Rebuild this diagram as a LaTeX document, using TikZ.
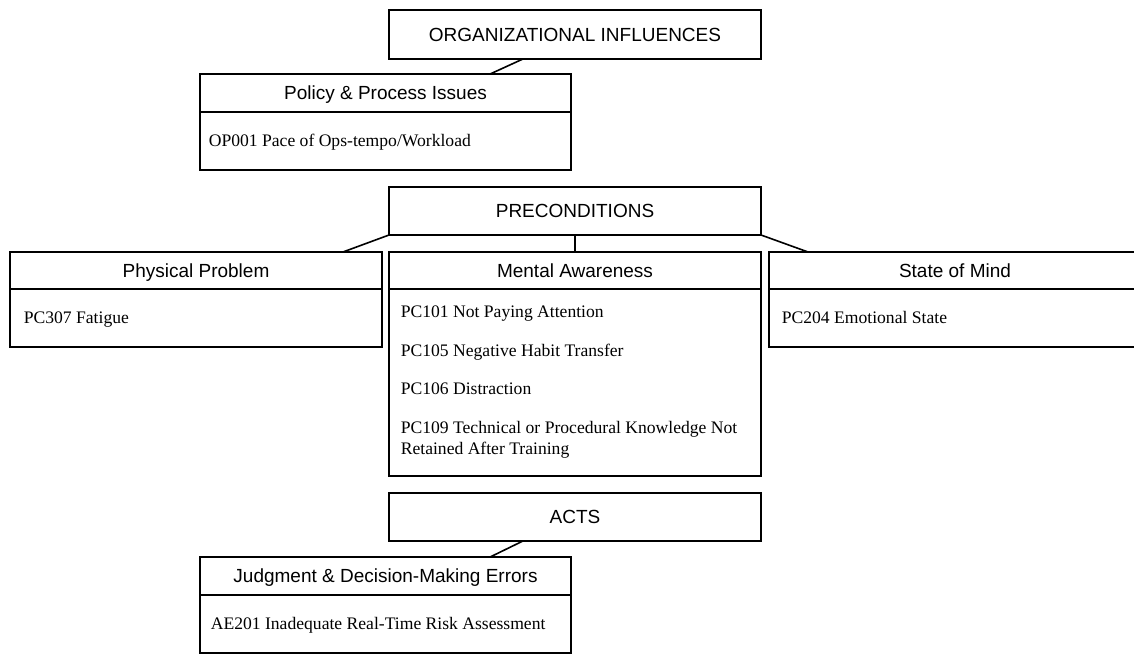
\documentclass[tikz,border=0pt]{standalone}
\usepackage{fontspec}
\setmainfont{Liberation Serif}
\newfontfamily\hsf{Liberation Sans}
\usetikzlibrary{calc}
\begin{document}
\begin{tikzpicture}[x=1pt,y=-1pt,line width=1.6pt,
  hbox/.style={draw=black,minimum width=372pt,inner sep=0pt,outer sep=0pt,text height=13.6pt,text depth=0pt,font=\hsf\fontsize{19}{22}\selectfont},
  bbox/.style={draw=black,minimum width=372pt,inner sep=0pt,outer sep=0pt},
  btext/.style={anchor=base west,inner sep=0pt,font=\fontsize{17.6}{21}\selectfont},
  link/.style={draw=black,line width=1.6pt}]
\useasboundingbox (0,0) rectangle (1134,653);
% top level
\node[hbox,minimum height=49pt] (org) at (575,34.5) {ORGANIZATIONAL INFLUENCES};
\node[hbox,minimum width=371pt,minimum height=38pt] (polh) at (385.5,93) {Policy \& Process Issues};
\node[bbox,minimum width=371pt,minimum height=58pt] (polb) at (385.5,141) {};
\node[btext] (op1) at (208,146) {OP001 Pace of Ops-tempo/Workload};
% preconditions
\node[hbox,minimum height=48pt] (pre) at (575,211) {PRECONDITIONS};
\node[hbox,minimum height=37pt] (phyh) at (196,270.5) {Physical Problem};
\node[bbox,minimum height=58pt] (phyb) at (196,318) {};
\node[btext] (pc307) at (23,323) {PC307 Fatigue};
\node[hbox,minimum height=37pt] (menh) at (575,270.5) {Mental Awareness};
\node[bbox,minimum height=187pt] (menb) at (575,382.5) {};
\node[btext] (pc101) at (400,317) {PC101 Not Paying Attention};
\node[btext] (pc105) at (400,356) {PC105 Negative Habit Transfer};
\node[btext] (pc106) at (400,394) {PC106 Distraction};
\node[btext] (pc109) at (400,433) {PC109 Technical or Procedural Knowledge Not};
\node[btext] (pc109b) at (400,454) {Retained After Training};
\node[hbox,minimum height=37pt] (stah) at (955,270.5) {State of Mind};
\node[bbox,minimum height=58pt] (stab) at (955,318) {};
\node[btext] (pc204) at (781,323) {PC204 Emotional State};
% acts
\node[hbox,minimum height=48pt] (acts) at (575,517) {ACTS};
\node[hbox,minimum width=371pt,minimum height=38pt] (judh) at (385.5,576) {Judgment \& Decision-Making Errors};
\node[bbox,minimum width=371pt,minimum height=58pt] (judb) at (385.5,624) {};
\node[btext] (ae201) at (210,629) {AE201 Inadequate Real-Time Risk Assessment};
% connectors
\draw[link] ($(org.south west)!0.36!(org.south east)$) -- ($(polh.north west)!0.782!(polh.north east)$);
\draw[link] (pre.south west) -- ($(phyh.north west)!0.895!(phyh.north east)$);
\draw[link] (pre.south) -- (menh.north);
\draw[link] (pre.south east) -- ($(stah.north west)!0.105!(stah.north east)$);
\draw[link] ($(acts.south west)!0.36!(acts.south east)$) -- ($(judh.north west)!0.782!(judh.north east)$);
\end{tikzpicture}
\end{document}
